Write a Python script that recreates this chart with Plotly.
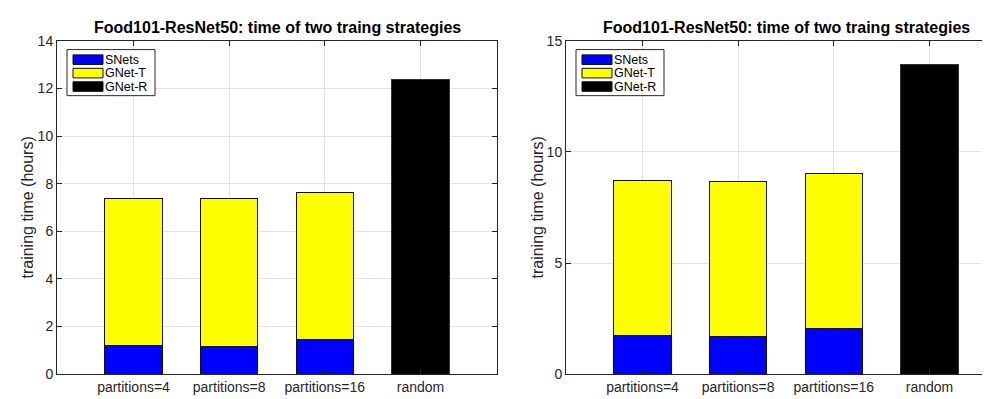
import plotly.graph_objects as go

# ---------------- data ----------------
categories = ["partitions=4", "partitions=8", "partitions=16", "random"]
series_names = ["SNets", "GNet-T", "GNet-R"]
series_colors = ["#0000ff", "#ffff00", "#000000"]

left_snets = [1.19, 1.15, 1.44]
left_gnet_t = [6.19, 6.22, 6.19]
left_gnet_r = [12.4]

right_snets = [1.75, 1.68, 2.05]
right_gnet_t = [6.96, 6.99, 6.98]
right_gnet_r = [13.95]

left_yticks = [0, 2, 4, 6, 8, 10, 12, 14]
right_yticks = [0, 5, 10, 15]
title_text = "Food101-ResNet50: time of two traing strategies"
ytitle_text = "training time (hours)"

# ---------------- layout helpers ----------------
W, H = 990, 399
FONT = "Liberation Sans, Arial, Helvetica, sans-serif"
AX = "#262626"
GRID = "#e3e3e3"


def fx(px):
    return px / W


def fy(py):
    return 1 - py / H


xpos = [1, 2, 3, 4]

fig = go.Figure()


def add_panel(snets, gnet_t, gnet_r, xa, ya):
    fig.add_trace(go.Bar(x=xpos[:3], y=snets, width=0.6, name=series_names[0],
                         marker=dict(color=series_colors[0], line=dict(color="#111111", width=1)),
                         xaxis=xa, yaxis=ya, showlegend=False))
    fig.add_trace(go.Bar(x=xpos[:3], y=gnet_t, width=0.6, name=series_names[1],
                         marker=dict(color=series_colors[1], line=dict(color="#111111", width=1)),
                         xaxis=xa, yaxis=ya, showlegend=False))
    fig.add_trace(go.Bar(x=xpos[3:], y=gnet_r, width=0.6, name=series_names[2],
                         marker=dict(color=series_colors[2], line=dict(color="#333333", width=1)),
                         xaxis=xa, yaxis=ya, showlegend=False))


add_panel(left_snets, left_gnet_t, left_gnet_r, "x", "y")
add_panel(right_snets, right_gnet_t, right_gnet_r, "x2", "y2")

y_top, y_bot = 26, 373
common_x = dict(tickmode="array", tickvals=xpos, ticktext=categories,
                showgrid=True, gridcolor=GRID, gridwidth=1,
                showline=True, linecolor=AX, linewidth=1,
                ticks="inside", ticklen=5, tickcolor=AX,
                tickfont=dict(family=FONT, size=14, color=AX),
                zeroline=False, fixedrange=True)
common_y = dict(showgrid=True, gridcolor=GRID, gridwidth=1,
                showline=True, linecolor=AX, linewidth=1,
                ticks="inside", ticklen=5, tickcolor=AX,
                tickfont=dict(family=FONT, size=14, color=AX),
                zeroline=False, fixedrange=True)

left_l, left_r = 49, 489
right_l = 558
unit = (left_r - left_l) / 4.6
right_end = 0.2 + (W - right_l) / unit

fig.update_layout(
    width=W, height=H, autosize=False,
    margin=dict(l=0, r=0, t=0, b=0),
    paper_bgcolor="white", plot_bgcolor="white",
    barmode="stack", showlegend=False,
    font=dict(family=FONT, color=AX),
    xaxis=dict(domain=[fx(left_l), fx(left_r)], range=[0.2, 4.8], anchor="y", mirror="ticks", **common_x),
    yaxis=dict(domain=[fy(y_bot), fy(y_top)], range=[0, 14], tickvals=left_yticks, anchor="x",
               mirror="ticks", **common_y),
    xaxis2=dict(domain=[fx(right_l), 1.0], range=[0.2, right_end], anchor="y2", mirror="ticks", **common_x),
    yaxis2=dict(domain=[fy(y_bot), fy(y_top)], range=[0, 15], tickvals=right_yticks, anchor="x2",
                mirror=False, **common_y),
)

annotations = []
shapes = []
# titles
for cx in [(left_l + left_r) / 2, right_l + (left_r - left_l) / 2]:
    annotations.append(dict(text="<b>" + title_text + "</b>", x=fx(cx), y=fy(12.5), xref="paper", yref="paper",
                            xanchor="center", yanchor="middle", showarrow=False,
                            font=dict(family=FONT, size=16, color="#000000")))
# y titles
for cx in [19, 529]:
    annotations.append(dict(text=ytitle_text, x=fx(cx), y=fy((y_top + y_bot) / 2), xref="paper", yref="paper",
                            xanchor="center", yanchor="middle", showarrow=False, textangle=-90,
                            font=dict(family=FONT, size=16, color=AX)))

# legends (drawn boxes)
for plot_l in [left_l, right_l]:
    bx0, bx1 = plot_l + 10, plot_l + 98
    by0, by1 = 35, 83
    shapes.append(dict(type="rect", xref="paper", yref="paper", x0=fx(bx0), x1=fx(bx1), y0=fy(by1), y1=fy(by0),
                       fillcolor="white", line=dict(color=AX, width=1), layer="above"))
    for i, (nm, col) in enumerate(zip(series_names, series_colors)):
        cy = 45.5 + i * 14
        shapes.append(dict(type="rect", xref="paper", yref="paper",
                           x0=fx(plot_l + 16), x1=fx(plot_l + 46), y0=fy(cy + 5), y1=fy(cy - 5),
                           fillcolor=col, line=dict(color="#111111", width=1), layer="above"))
        annotations.append(dict(text=nm, x=fx(plot_l + 47), y=fy(cy), xref="paper", yref="paper",
                                xanchor="left", yanchor="middle", showarrow=False, borderpad=0,
                                font=dict(family=FONT, size=12.5, color="#000000")))

fig.update_layout(annotations=annotations, shapes=shapes)

fig.write_html("out.html")
